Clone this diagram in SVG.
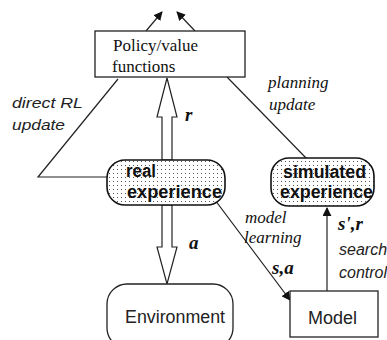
<svg xmlns="http://www.w3.org/2000/svg" width="387" height="340" viewBox="0 0 387 340">
  <style>
    .box { fill: #fff; stroke: #222; stroke-width: 1.3; }
    .pill { fill: url(#stipple); stroke: #111; stroke-width: 1.6; }
    .line { fill: none; stroke: #222; stroke-width: 1.2; }
    .hollow { fill: #fff; stroke: #222; stroke-width: 1.2; stroke-linejoin: miter; }
    .serif { font-family: "Liberation Serif", "Times New Roman", serif; fill: #111; }
    .sans { font-family: "Liberation Sans", Arial, sans-serif; fill: #222; }
    .pilltxt { font-family: "Liberation Sans", Arial, sans-serif; font-weight: bold; font-size: 18px; fill: #111; }
    .ital { font-style: italic; }
    .sym { font-family: "Liberation Serif", "Times New Roman", serif; font-weight: bold; font-style: italic; font-size: 19px; fill: #111; }
  </style>
  <defs>
    <pattern id="stipple" width="4" height="4" patternUnits="userSpaceOnUse">
      <rect width="4" height="4" fill="#fff"/>
      <rect x="1" y="1" width="1" height="1" fill="#555"/>
    </pattern>
    <marker id="head" viewBox="0 0 10 10" refX="9" refY="5" markerWidth="9" markerHeight="9" markerUnits="userSpaceOnUse" orient="auto">
      <path d="M0,0 L10,5 L0,10 Z" fill="#111"/>
    </marker>
  </defs>

  <!-- connectors -->
  <g id="connectors">
    <!-- outgoing arrows above the policy box -->
    <line class="line" x1="146" y1="31" x2="162" y2="12" marker-end="url(#head)"/>
    <line class="line" x1="195" y1="31" x2="177" y2="12" marker-end="url(#head)"/>
    <!-- direct RL update -->
    <polyline class="line" points="118,79 38,177 107,177"/>
    <!-- planning update -->
    <line class="line" x1="227" y1="77" x2="307" y2="159"/>
    <!-- reward: hollow arrow up -->
    <polygon class="hollow" points="162,160 162,117 157,117 167,78 177,117 172,117 172,160"/>
    <!-- action: hollow arrow down -->
    <polygon class="hollow" points="162,205 162,247 157,247 167,284 177,247 172,247 172,205"/>
    <!-- model learning -->
    <line class="line" x1="215" y1="200" x2="290" y2="300" marker-end="url(#head)"/>
    <!-- search control -->
    <line class="line" x1="327" y1="291" x2="327" y2="208" marker-end="url(#head)"/>
  </g>

  <!-- connector labels -->
  <g id="labels">
    <text class="sans ital" x="12" y="108" font-size="15" textLength="71" lengthAdjust="spacingAndGlyphs">direct RL</text>
    <text class="sans ital" x="12" y="130" font-size="15" textLength="53" lengthAdjust="spacingAndGlyphs">update</text>
    <text class="serif ital" x="268" y="88" font-size="17">planning</text>
    <text class="serif ital" x="269" y="110" font-size="17">update</text>
    <text class="sym" x="185" y="121">r</text>
    <text class="sym" x="189" y="249">a</text>
    <text class="serif ital" x="245" y="223" font-size="17">model</text>
    <text class="serif ital" x="244" y="243" font-size="17">learning</text>
    <text class="sym" x="272" y="274">s,a</text>
    <text class="sym" x="338" y="230">s',r</text>
    <text class="sans ital" x="339" y="255" font-size="16">search</text>
    <text class="sans ital" x="339" y="278" font-size="16">control</text>
  </g>

  <g id="policy">
    <rect class="box" x="95" y="31" width="150" height="46"/>
    <text class="serif" x="113" y="51" font-size="17">Policy/value</text>
    <text class="serif" x="112" y="72" font-size="17">functions</text>
  </g>

  <g id="real-experience">
    <rect class="pill" x="107" y="160" width="118" height="45" rx="18" ry="18"/>
    <text class="pilltxt" x="126" y="177" textLength="30" lengthAdjust="spacingAndGlyphs">real</text>
    <text class="pilltxt" x="127" y="198" textLength="95" lengthAdjust="spacingAndGlyphs">experience</text>
  </g>

  <g id="simulated-experience">
    <rect class="pill" x="271" y="158" width="103" height="48" rx="18" ry="18"/>
    <text class="pilltxt" x="283" y="178" textLength="83" lengthAdjust="spacingAndGlyphs">simulated</text>
    <text class="pilltxt" x="280" y="198" textLength="93" lengthAdjust="spacingAndGlyphs">experience</text>
  </g>

  <g id="environment">
    <rect class="box" x="107" y="284" width="126" height="64" rx="20" ry="20"/>
    <text class="sans" x="125" y="323" font-size="18" textLength="100" lengthAdjust="spacingAndGlyphs">Environment</text>
  </g>

  <g id="model">
    <rect class="box" x="290" y="291" width="88" height="46"/>
    <text class="sans" x="308" y="324" font-size="18">Model</text>
  </g>
</svg>
